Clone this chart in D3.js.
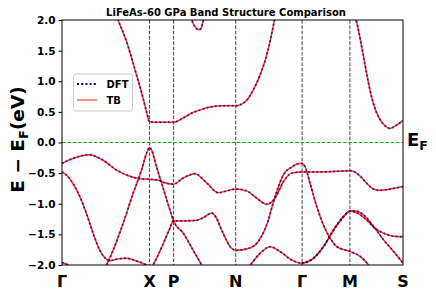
<!DOCTYPE html>
<html>
<head>
<meta charset="utf-8">
<script src="https://cdn.jsdelivr.net/npm/d3@7"></script>
<style>body{margin:0;background:#fff}</style>
</head>
<body>
<svg width="436" height="300" font-family="DejaVu Sans" font-weight="bold"></svg>
<script>

// high-symmetry path
var kLabels = ["Γ", "X", "P", "N", "Γ", "M", "S"];
var kTicks = [0, 0.874, 1.114, 1.734, 2.397, 2.874, 3.404];
var eTicks = [-2, -1.5, -1, -0.5, 0, 0.5, 1, 1.5, 2];

// bands, [k, E - Ef]
var bandTopLeft = [[0.542,2.08],[0.560,2.0],[0.644,1.65],[0.744,1.10],[0.810,0.72],[0.847,0.48],[0.874,0.34],
  [0.977,0.33],[1.114,0.33],[1.210,0.40],[1.294,0.48],[1.377,0.53],[1.477,0.58],[1.610,0.60],[1.734,0.60],
  [1.844,0.69],[1.910,0.86],[1.977,1.10],[2.044,1.43],[2.117,1.97],[2.132,2.1]];
var bandTopDip = [[1.287,2.05],[1.307,1.95],[1.337,1.87],[1.370,1.84],[1.392,1.88],[1.410,2.0],[1.420,2.08]];
var bandTopRight = [[2.927,2.05],[2.944,1.95],[2.994,1.54],[3.044,1.10],[3.094,0.72],[3.137,0.50],[3.177,0.37],
  [3.227,0.27],[3.272,0.23],[3.327,0.27],[3.404,0.36]];
var bandUpper = [[0,-0.34],[0.110,-0.26],[0.270,-0.20],[0.410,-0.29],[0.544,-0.45],[0.677,-0.55],[0.777,-0.59],
  [0.874,-0.60],[0.977,-0.62],[1.010,-0.65],[1.114,-0.68],[1.210,-0.58],[1.327,-0.51],[1.444,-0.66],[1.560,-0.82],
  [1.647,-0.79],[1.734,-0.76],[1.844,-0.79],[1.937,-0.90],[2.044,-1.01],[2.094,-0.97],[2.144,-0.86],[2.210,-0.64],
  [2.294,-0.50],[2.397,-0.48],[2.610,-0.48],[2.874,-0.46],[2.907,-0.47],[2.977,-0.55],[3.044,-0.67],[3.097,-0.75],
  [3.157,-0.78],[3.277,-0.76],[3.404,-0.72]];
var bandGammaDown = [[0,-0.48],[0.044,-0.53],[0.110,-0.67],[0.177,-0.88],[0.244,-1.16],[0.310,-1.48],[0.377,-1.76],
  [0.427,-1.88],[0.477,-1.93],[0.557,-1.90],[0.644,-1.89],[0.737,-1.93],[0.844,-2.0],[0.877,-2.03]];
var bandXPeak = [[0.427,-2.05],[0.444,-2.0],[0.510,-1.76],[0.610,-1.32],[0.710,-0.83],[0.794,-0.45],[0.850,-0.15],
  [0.874,-0.08],[0.894,-0.12],[0.944,-0.40],[1.010,-0.75],[1.077,-1.10],[1.110,-1.27],[1.210,-1.48],[1.310,-1.76],
  [1.394,-2.0],[1.407,-2.04]];
var bandMiddle = [[0.897,-2.05],[0.910,-2.0],[0.944,-1.89],[1.027,-1.59],[1.077,-1.40],[1.110,-1.28],[1.210,-1.28],
  [1.344,-1.27],[1.417,-1.22],[1.494,-1.15],[1.537,-1.22],[1.594,-1.43],[1.694,-1.73],[1.737,-1.76],[1.860,-1.73],
  [1.957,-1.62],[2.017,-1.45],[2.057,-1.28],[2.097,-1.05],[2.144,-0.80],[2.210,-0.53],[2.294,-0.40],[2.347,-0.35],
  [2.394,-0.34],[2.427,-0.40],[2.477,-0.67],[2.544,-1.05],[2.610,-1.35],[2.677,-1.56],[2.744,-1.70],[2.877,-1.78],
  [2.977,-1.86],[3.060,-2.0],[3.077,-2.04]];
var bandLowHump = [[1.857,-2.03],[1.877,-2.0],[1.977,-1.81],[2.077,-1.70],[2.177,-1.78],[2.294,-1.92],[2.394,-1.97],
  [2.510,-1.89],[2.610,-1.70],[2.710,-1.43],[2.810,-1.21],[2.877,-1.12],[2.944,-1.15],[3.044,-1.27],[3.110,-1.38],
  [3.210,-1.48],[3.310,-1.53],[3.404,-1.54]];
var bandLowM = [[2.394,-1.97],[2.510,-1.89],[2.610,-1.70],[2.710,-1.43],[2.810,-1.21],[2.877,-1.12],[2.927,-1.12],
  [3.010,-1.18],[3.110,-1.37],[3.210,-1.59],[3.310,-1.78],[3.404,-1.97]];
var bandBottom = [[0,-1.96],[0.044,-1.985],[0.090,-2.03]];

var bands = [bandTopLeft, bandTopDip, bandTopRight, bandUpper, bandGammaDown,
             bandXPeak, bandMiddle, bandLowHump, bandLowM, bandBottom];

var svg = d3.select("svg"),
    margin = {top: 20, right: 33, bottom: 35, left: 62},
    width = +svg.attr("width") - margin.left - margin.right,
    height = +svg.attr("height") - margin.top - margin.bottom;

var x = d3.scaleLinear().domain([0, kTicks[kTicks.length - 1]]).range([margin.left, margin.left + width]);
var y = d3.scaleLinear().domain([-2, 2]).range([margin.top + height, margin.top]);

svg.append("defs").append("clipPath").attr("id", "plot")
  .append("rect")
    .attr("x", margin.left).attr("y", margin.top)
    .attr("width", width).attr("height", height);

var line = d3.line()
    .x(function(d) { return x(d[0]); })
    .y(function(d) { return y(d[1]); })
    .curve(d3.curveMonotoneX);

// vertical lines at high-symmetry points
svg.selectAll(".kline")
  .data(kTicks.slice(1, -1))
  .enter().append("line")
    .attr("x1", function(d) { return x(d); })
    .attr("x2", function(d) { return x(d); })
    .attr("y1", margin.top).attr("y2", margin.top + height)
    .attr("stroke", "#222").attr("stroke-width", 1)
    .attr("stroke-opacity", 0.85)
    .attr("stroke-dasharray", "3.7,1.6");

// fermi level
svg.append("line")
    .attr("x1", margin.left).attr("x2", margin.left + width)
    .attr("y1", y(0)).attr("y2", y(0))
    .attr("stroke", "#22a022").attr("stroke-width", 1)
    .attr("stroke-dasharray", "3.7,1.6");

var g = svg.append("g").attr("clip-path", "url(#plot)");

// TB
g.selectAll(".tb")
  .data(bands)
  .enter().append("path")
    .attr("d", line)
    .attr("fill", "none")
    .attr("stroke", "red")
    .attr("stroke-opacity", 0.85)
    .attr("stroke-width", 1.5);

// DFT
g.selectAll(".dft")
  .data(bands)
  .enter().append("path")
    .attr("d", line)
    .attr("fill", "none")
    .attr("stroke", "#000080")
    .attr("stroke-opacity", 0.7)
    .attr("stroke-width", 1.9)
    .attr("stroke-dasharray", "1.7,2.5");

// frame
svg.append("rect")
    .attr("x", margin.left).attr("y", margin.top)
    .attr("width", width).attr("height", height)
    .attr("fill", "none").attr("stroke", "#000").attr("stroke-width", 1);

// y axis
var yAxis = svg.append("g")
    .attr("transform", "translate(" + margin.left + ",0)")
    .call(d3.axisLeft(y).tickValues(eTicks).tickSize(3.5).tickPadding(3)
      .tickFormat(function(d) { return d3.format(".1f")(d).replace("-", "\u2212"); }));
yAxis.select(".domain").remove();
yAxis.selectAll("text").attr("font-size", 10.5).attr("font-family", "DejaVu Sans").attr("font-weight", "bold").attr("fill", "#000");

// x labels
svg.selectAll(".klabel")
  .data(kTicks)
  .enter().append("text")
    .attr("x", function(d) { return x(d); })
    .attr("y", 287)
    .attr("text-anchor", "middle")
    .attr("font-size", 16)
    .text(function(d, i) { return kLabels[i]; });

// titles
svg.append("text")
    .attr("x", 226).attr("y", 16)
    .attr("text-anchor", "middle")
    .attr("font-size", 10)
    .text("LiFeAs-60 GPa Band Structure Comparison");

var yl = svg.append("text")
    .attr("transform", "translate(24," + (y(0) - 3) + ") rotate(-90)")
    .attr("text-anchor", "middle")
    .attr("font-size", 18.5);
yl.append("tspan").text("E \u2212 E");
yl.append("tspan").attr("font-size", 13).attr("dy", 4).text("F");
yl.append("tspan").attr("dy", -4).text("(eV)");

var ef = svg.append("text")
    .attr("x", 407).attr("y", y(0) + 3)
    .attr("font-size", 18);
ef.append("tspan").text("E");
ef.append("tspan").attr("font-size", 12.5).attr("dy", 4).text("F");

// legend
var leg = svg.append("g");
leg.append("rect")
    .attr("x", 73.5).attr("y", 74).attr("width", 59).attr("height", 37)
    .attr("rx", 2.5)
    .attr("fill", "#fff").attr("fill-opacity", 0.8)
    .attr("stroke", "#ccc");
leg.append("line")
    .attr("x1", 77).attr("x2", 97).attr("y1", 84).attr("y2", 84)
    .attr("stroke", "#000080").attr("stroke-width", 2).attr("stroke-dasharray", "2,2.2");
leg.append("line")
    .attr("x1", 77).attr("x2", 97).attr("y1", 100).attr("y2", 100)
    .attr("stroke", "red").attr("stroke-opacity", 0.55).attr("stroke-width", 1.6);
leg.append("text").attr("x", 106.5).attr("y", 87.8).attr("font-size", 10).text("DFT");
leg.append("text").attr("x", 106.5).attr("y", 103.8).attr("font-size", 10).text("TB");

</script>
</body>
</html>
